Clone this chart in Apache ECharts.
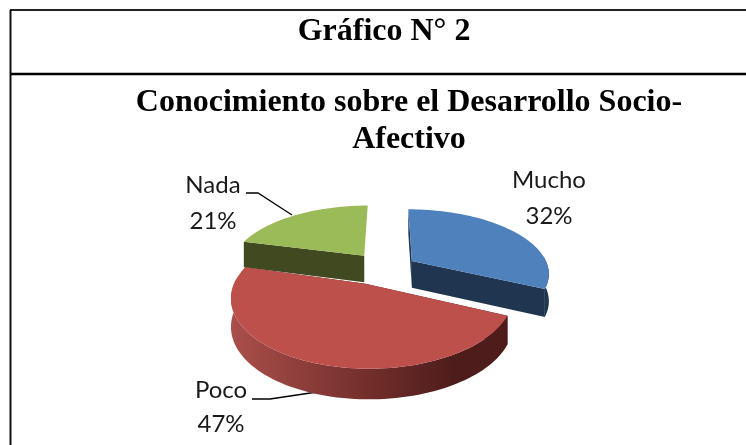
<!DOCTYPE html>
<html>
<head>
<meta charset="utf-8">
<script src="https://cdn.jsdelivr.net/npm/echarts@6/dist/echarts.min.js"></script>
<style>
  html, body { margin: 0; padding: 0; background: #fff; }
  #chart { width: 746px; height: 445px; }
</style>
</head>
<body>
<div id="chart"></div>
<script>
var categories = ['Mucho', 'Poco', 'Nada'];
var percents = [32, 47, 21];

// colores: cara superior, cara radial, borde exterior
var topColors = ['#4f81bd', '#be504c', '#9bbb59'];
var cutColors = ['#1f3550', '#4e1d1b', '#40491f'];
// desplazamiento de cada porcion (unidades del radio: x, y hacia delante)
var explode = [[0.178, -0.143], [-0.158, 0.207], [-0.18, -0.23]];
// ajuste del arco respecto a la punta, la porcion de delante sale mas estrecha
var arcShift = [0, 0.05, 0];
var arcScale = [1, 0.97, 0.99];
// orden de dibujo: atras primero
var drawOrder = [2, 0, 1];

// proyeccion en perspectiva del disco
var cx = 388, cy = 270, R = 137.5, A = 64, K = -0.18;

function project(u, v, down) {
  var d = 1 + K * v;
  var depth = down ? 27 + 3 * v : 0;
  return [cx + R * u / d, cy + A * v / d + depth];
}

function arcPoints(i, a0, a1, down) {
  var pts = [];
  var n = Math.max(2, Math.ceil((a1 - a0) / 2));
  for (var k = 0; k <= n; k++) {
    var t = (a0 + (a1 - a0) * k / n) * Math.PI / 180;
    pts.push(project(
      explode[i][0] + arcShift[i] + arcScale[i] * Math.sin(t),
      explode[i][1] - Math.cos(t),
      down
    ));
  }
  return pts;
}

var total = percents.reduce(function (a, b) { return a + b; }, 0);
var startAngles = [];
percents.reduce(function (acc, p, i) {
  startAngles[i] = acc;
  return acc + p / total * 360;
}, 0);

function renderSlice(params, api) {
  var i = drawOrder[params.dataIndex];
  var a0 = startAngles[i];
  var a1 = a0 + percents[i] / total * 360;
  var ex = explode[i];
  var tip = project(ex[0], ex[1], false);
  var tipD = project(ex[0], ex[1], true);
  var topArc = arcPoints(i, a0, a1, false);
  var botArc = arcPoints(i, a0, a1, true);
  var last = topArc.length - 1;
  var children = [];

  // caras radiales, en Nada la de la derecha no se ve
  var faces = [[topArc[0], botArc[0]]];
  if (i !== 2) faces.push([topArc[last], botArc[last]]);
  faces.forEach(function (e) {
    children.push({
      type: 'polygon',
      shape: { points: [tip, e[0], e[1], tipD] },
      style: { fill: cutColors[i] }
    });
  });

  // borde exterior, solo la parte que mira hacia delante
  var front = [], frontD = [];
  topArc.forEach(function (p, k) {
    var t = a0 + (a1 - a0) * k / last;
    if (Math.cos(t * Math.PI / 180) < 0.1) {
      front.push(p);
      frontD.push(botArc[k]);
    }
  });
  if (front.length > 1) {
    children.push({
      type: 'polygon',
      shape: { points: front.concat(frontD.slice().reverse()) },
      style: {
        fill: i === 1 ? new echarts.graphic.LinearGradient(0, 0, 1, 0, [
          { offset: 0, color: '#aa4f4b' },
          { offset: 0.5, color: '#722e2b' },
          { offset: 0.8, color: '#4e1d1b' },
          { offset: 1, color: '#4e1d1b' }
        ]) : cutColors[i]
      }
    });
  }

  children.push({
    type: 'polygon',
    shape: { points: [tip].concat(topArc) },
    style: { fill: topColors[i] }
  });
  return { type: 'group', children: children };
}

var chart = echarts.init(document.getElementById('chart'), null, { renderer: 'canvas' });
var labelFont = 'Lato, "Noto Sans", sans-serif';
var titleFont = '"Liberation Serif", serif';

function pctLabel(i) { return categories[i] + '\n' + percents[i] + '%'; }

chart.setOption({
  animation: false,
  backgroundColor: '#fff',
  series: [{
    type: 'custom',
    coordinateSystem: 'none',
    data: drawOrder.map(function (i) { return percents[i]; }),
    renderItem: renderSlice
  }],
  graphic: [
    { type: 'line', shape: { x1: 10, y1: 10, x2: 746, y2: 10 }, style: { stroke: '#222', lineWidth: 2 } },
    { type: 'line', shape: { x1: 10, y1: 74, x2: 746, y2: 74 }, style: { stroke: '#000', lineWidth: 2.5 } },
    { type: 'line', shape: { x1: 10.5, y1: 10, x2: 10.5, y2: 445 }, style: { stroke: '#111', lineWidth: 2 } },
    { type: 'text', x: 384, y: 32, style: { text: 'Gráfico N° 2', font: 'bold 32px ' + titleFont, fill: '#000', align: 'center', verticalAlign: 'middle' } },
    { type: 'text', x: 409, y: 103, style: { text: 'Conocimiento sobre el Desarrollo Socio-', font: 'bold 32px ' + titleFont, fill: '#000', align: 'center', verticalAlign: 'middle' } },
    { type: 'text', x: 409, y: 140, style: { text: 'Afectivo', font: 'bold 32px ' + titleFont, fill: '#000', align: 'center', verticalAlign: 'middle' } },
    { type: 'text', x: 549, y: 198, style: { text: pctLabel(0), font: '24px ' + labelFont, lineHeight: 36, fill: '#1a1a1a', align: 'center', verticalAlign: 'middle' } },
    { type: 'text', x: 221, y: 407, style: { text: pctLabel(1), font: '24px ' + labelFont, lineHeight: 34, fill: '#1a1a1a', align: 'center', verticalAlign: 'middle' } },
    { type: 'text', x: 213, y: 203, style: { text: pctLabel(2), font: '24px ' + labelFont, lineHeight: 36, fill: '#1a1a1a', align: 'center', verticalAlign: 'middle' } },
    { type: 'polyline', shape: { points: [[246, 193], [258, 193], [292, 215]] }, style: { stroke: '#000', lineWidth: 1.3, fill: null } },
    { type: 'polyline', shape: { points: [[252, 399], [270, 399], [317, 392]] }, style: { stroke: '#000', lineWidth: 1.3, fill: null } }
  ]
});
</script>
</body>
</html>
